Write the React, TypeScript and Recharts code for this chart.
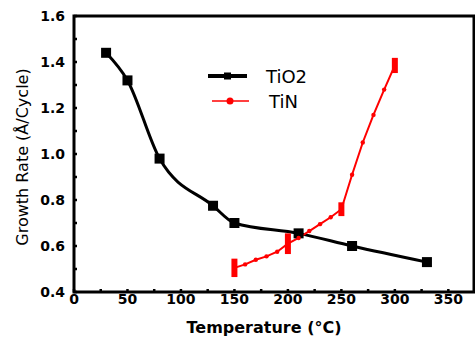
import React from "react";
import { LineChart, Line, XAxis, YAxis, ErrorBar, ReferenceArea, Legend } from "recharts";

// --- data ---
const tio2Temp = [30, 50, 80, 130, 150, 210, 260, 330];
const tio2Rate = [1.44, 1.32, 0.98, 0.775, 0.7, 0.655, 0.6, 0.53];

const tinTemp = [150, 160, 170, 180, 190, 200, 210, 220, 230, 240, 250, 260, 270, 280, 290, 300];
const tinRate = [0.505, 0.52, 0.54, 0.555, 0.575, 0.61, 0.635, 0.665, 0.695, 0.725, 0.76, 0.91, 1.05, 1.17, 1.28, 1.385];
const tinErr = [0.04, 0, 0, 0, 0, 0.045, 0, 0, 0, 0, 0.03, 0, 0, 0, 0, 0.033];

const xTicks = [0, 25, 50, 75, 100, 125, 150, 175, 200, 225, 250, 275, 300, 325, 350];
const yTicks = [0.4, 0.5, 0.6, 0.7, 0.8, 0.9, 1.0, 1.1, 1.2, 1.3, 1.4, 1.5, 1.6];

const tio2Data = tio2Temp.map((t, i) => ({ t, v: tio2Rate[i] }));
const tinData = tinTemp.map((t, i) => ({ t, v: tinRate[i], err: tinErr[i] }));

const FONT = "'DejaVu Sans', Arial, sans-serif";

const XTick = (props: any) => {
  const { x, y, payload } = props;
  const v = payload.value;
  const major = v % 50 === 0;
  return (
    <g>
      <line x1={x} y1={y} x2={x} y2={y - 3} stroke="#000" strokeWidth={2.5} />
      {major && (
        <text x={x} y={y + 12} textAnchor="middle" fontFamily={FONT} fontWeight="bold" fontSize={14} fill="#000">
          {v}
        </text>
      )}
    </g>
  );
};

const YTick = (props: any) => {
  const { x, y, payload } = props;
  const v = payload.value;
  const major = Math.round(v * 10) % 2 === 0;
  return (
    <g>
      <line x1={x} y1={y} x2={x + 3} y2={y} stroke="#000" strokeWidth={2.5} />
      {major && (
        <text x={x - 9} y={y + 5} textAnchor="end" fontFamily={FONT} fontWeight="bold" fontSize={14} fill="#000">
          {v.toFixed(1)}
        </text>
      )}
    </g>
  );
};

const squareDot = (props: any) => {
  const { cx, cy, index } = props;
  return <rect key={`sq-${index}`} x={cx - 5} y={cy - 5} width={10} height={10} fill="#000" />;
};

// small red dots between the measured points
const tinDot = (props: any) => {
  const { cx, cy, index, payload } = props;
  if (payload && payload.err) return <g key={`tn-${index}`} />;
  return <circle key={`tn-${index}`} cx={cx} cy={cy} r={2.2} fill="#ff0000" />;
};

const renderLegend = () => (
  <svg width={130} height={55} style={{ display: "block" }}>
    <line x1={8} y1={16} x2={47} y2={16} stroke="#000" strokeWidth={4} />
    <rect x={24} y={12.5} width={7} height={7} fill="#000" />
    <text x={66} y={23} fontFamily={FONT} fontSize={18} fill="#000">TiO2</text>
    <line x1={12} y1={41} x2={49} y2={41} stroke="#ff0000" strokeWidth={1.5} />
    <circle cx={30} cy={41} r={3.5} fill="#ff0000" />
    <text x={69} y={48} fontFamily={FONT} fontSize={18} fill="#000">TiN</text>
  </svg>
);

export default function App() {
  return (
    <div style={{ position: "absolute", left: 0, top: 0, background: "#fff" }}>
      <LineChart width={475} height={341} margin={{ top: 16, right: 1, bottom: 0, left: 0 }}>
        <XAxis
          type="number"
          dataKey="t"
          domain={[0, 374]}
          ticks={xTicks}
          interval={0}
          tickSize={0}
          tickMargin={0}
          axisLine={false}
          tick={<XTick />}
          height={49}
          allowDataOverflow
          label={{
            content: () => (
              <text x={264} y={333} textAnchor="middle" fontFamily={FONT} fontWeight="bold" fontSize={16} fill="#000">
                Temperature (°C)
              </text>
            ),
          }}
        />
        <YAxis
          type="number"
          domain={[0.4, 1.6]}
          ticks={yTicks}
          interval={0}
          tickSize={0}
          tickMargin={0}
          axisLine={false}
          tick={<YTick />}
          width={74}
          allowDataOverflow
          label={{
            content: () => (
              <text
                x={28}
                y={157}
                transform="rotate(-90 28 157)"
                textAnchor="middle"
                fontFamily={FONT}
                fontSize={16}
                fill="#000"
              >
                Growth Rate (Å/Cycle)
              </text>
            ),
          }}
        />
        <ReferenceArea x1={0} x2={374} y1={0.4} y2={1.6} fill="none" stroke="#000" strokeWidth={3} />
        <Legend
          layout="vertical"
          align="center"
          verticalAlign="middle"
          content={renderLegend}
          wrapperStyle={{ position: "absolute", left: 200, top: 60, width: 130, height: 55 }}
        />
        <Line
          data={tio2Data}
          dataKey="v"
          type="monotone"
          stroke="#000"
          strokeWidth={3}
          dot={squareDot}
          activeDot={false}
          isAnimationActive={false}
          legendType="none"
        />
        <Line
          data={tinData}
          dataKey="v"
          type="linear"
          stroke="#ff0000"
          strokeWidth={2}
          dot={tinDot}
          activeDot={false}
          isAnimationActive={false}
          legendType="none"
        >
          <ErrorBar dataKey="err" width={0} strokeWidth={6} stroke="#ff0000" direction="y" isAnimationActive={false} />
        </Line>
      </LineChart>
    </div>
  );
}
